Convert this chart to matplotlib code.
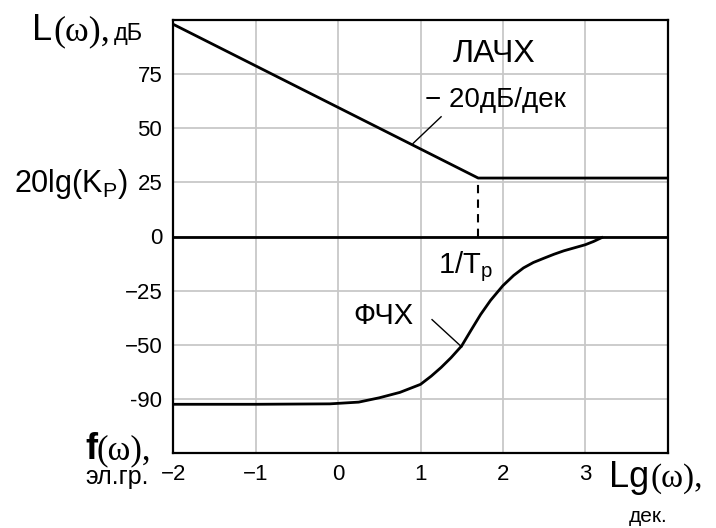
import matplotlib
matplotlib.use('Agg')
import matplotlib.pyplot as plt

# ---- data ----
lg_amp = [-2.0, 1.7, 4.0]
amp_db = [98, 27, 27]
lg_phase = [-2.0, -1.0, -0.1, 0.25, 0.5, 0.75, 1.0, 1.13, 1.25, 1.37, 1.5, 1.61, 1.73,
            1.85, 2.0, 2.13, 2.25, 2.37, 2.5, 2.62, 2.74, 2.87, 3.0, 3.1, 3.2]
phase = [-77.5, -77.5, -77.3, -76.5, -74.5, -72.0, -68.3, -64.5, -60.5, -56.0, -50.5, -43.5, -36.0,
         -29.5, -22.7, -18.0, -14.5, -12.0, -10.0, -8.2, -6.6, -5.2, -3.8, -2.3, -0.5]
x_ticks = [-2, -1, 0, 1, 2, 3]
x_tick_labels = ['−2', '−1', '0', '1', '2', '3']
y_ticks = [75, 50, 25, 0, -25, -50, -75]
y_tick_labels = ['75', '50', '25', '0', '−25', '−50', '-90']
corner_lg = 1.7

SANS = ['Liberation Sans', 'DejaVu Sans']
SERIF = ['Liberation Serif', 'DejaVu Serif']
plt.rcParams['font.family'] = SANS
plt.rcParams['mathtext.fontset'] = 'custom'
plt.rcParams['mathtext.rm'] = 'Liberation Sans'

W, H = 716, 528
fig = plt.figure(figsize=(W / 100, H / 100), dpi=100)
L, R, T, B = 173.3, 667.7, 20, 453
ax = fig.add_axes([L / W, 1 - B / H, (R - L) / W, (B - T) / H])
ax.set_xlim(-2, 4)
ax.set_ylim(-100, 100)

for s in ax.spines.values():
    s.set_linewidth(1.6)
    s.set_color('black')

ax.set_xticks(x_ticks)
ax.set_xticklabels(x_tick_labels)
ax.set_yticks(y_ticks)
ax.set_yticklabels(y_tick_labels)
ax.tick_params(length=0, labelsize=16, pad=8)
ax.grid(True, color='#c8c8c8', linewidth=1.3)
ax.set_axisbelow(True)

ax.axhline(0, color='black', linewidth=2)
ax.plot(lg_amp, amp_db, color='black', linewidth=2)
ax.plot(lg_phase, phase, color='black', linewidth=2)
ax.plot([corner_lg, corner_lg], [0, amp_db[1]], color='black', linewidth=1.5, linestyle=(0, (4, 3)))

# annotations
ax.plot([0.91, 1.25], [43, 55.3], color='black', linewidth=1)
ax.text(1.05, 63, '− 20дБ/дек', fontsize=20, ha='left', va='center')
ax.text(1.89, 84.5, 'ЛАЧХ', fontsize=23, ha='center', va='center')
ax.plot([1.14, 1.5], [-38.4, -51], color='black', linewidth=1)
ax.text(0.55, -36.6, 'ФЧХ', fontsize=21, ha='center', va='center')
ax.text(1.54, -14, r'1/T$_\mathrm{p}$', fontsize=21, ha='center', va='center')


def ft(px, py, s, **kw):
    fig.text(px / W, 1 - py / H, s, **kw)


ft(32, 40, 'L', fontsize=26, family=SANS, va='baseline')
ft(53, 40, '(ω),', fontsize=26, family=SERIF, va='baseline')
ft(114, 40, 'дБ', fontsize=17, va='baseline')
ft(14, 192, r'20lg(K$_\mathrm{P}$)', fontsize=22, va='baseline')
ft(85, 459, 'f', fontsize=26, family=SANS, weight='bold', va='baseline')
ft(97, 459, '(ω),', fontsize=25, family=SERIF, va='baseline')
ft(85, 484, 'эл.гр.', fontsize=18, va='baseline')
ft(609, 487, 'Lg', fontsize=26, family=SANS, va='baseline')
ft(650, 487, '(ω),', fontsize=24, family=SERIF, va='baseline')
ft(648, 522, 'дек.', fontsize=15, va='baseline', ha='center')

fig.savefig('out.png', dpi=100)
